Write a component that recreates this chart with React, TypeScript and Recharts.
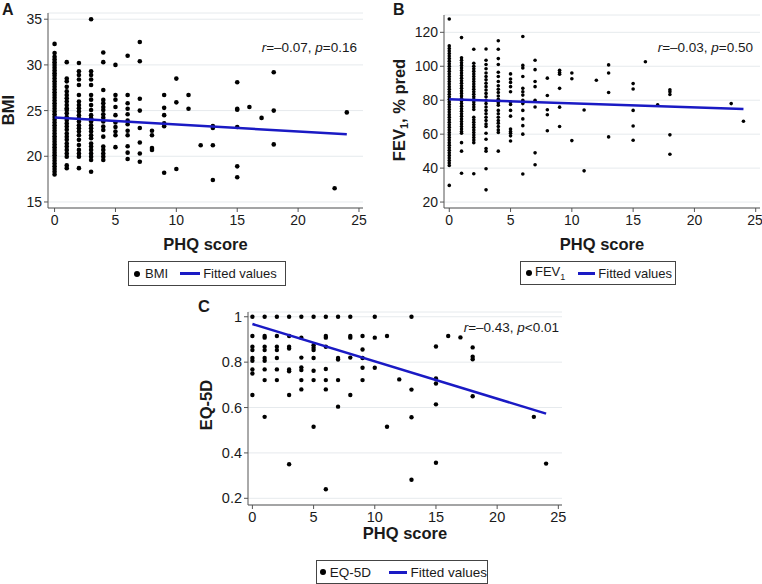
import React from 'react';
import { ScatterChart, Scatter, XAxis, YAxis, CartesianGrid } from 'recharts';

type Col = [number, number[]];

// PHQ score -> BMI values
const bmiColumns: Col[] = [
  [0, [32.3, 31.3, 30.9, 30.6, 30.3, 30.0, 29.7, 29.4, 29.1, 28.8, 28.5, 28.2, 27.9, 27.6, 27.3, 27.0, 26.7, 26.4, 26.1, 25.8, 25.5, 25.2, 24.9, 24.6, 24.3, 24.0, 23.7, 23.4, 23.1, 22.8, 22.5, 22.2, 21.9, 21.6, 21.3, 21.0, 20.7, 20.4, 20.1, 19.8, 19.5, 19.2, 18.9, 18.6, 18.3, 18.0]],
  [1, [30.3, 28.5, 28.2, 27.6, 27.1, 26.7, 26.35, 26.0, 25.6, 25.25, 25.07, 24.7, 24.3, 23.97, 23.6, 23.25, 22.9, 22.5, 22.15, 21.8, 21.4, 21.06, 20.7, 20.3, 19.96, 19.0, 18.7]],
  [2, [30.2, 29.3, 28.9, 28.4, 27.8, 26.7, 26.0, 25.6, 25.25, 24.9, 24.5, 24.16, 23.8, 23.4, 23.07, 22.7, 22.3, 21.8, 21.24, 20.7, 20.3, 19.96, 18.7]],
  [3, [35.0, 29.3, 28.9, 28.4, 27.8, 26.7, 26.2, 25.6, 25.07, 24.5, 24.16, 23.8, 23.4, 23.07, 22.7, 22.3, 21.97, 21.4, 21.06, 20.7, 20.3, 19.96, 19.6, 18.3]],
  [4, [31.35, 30.3, 27.26, 26.17, 25.8, 25.4, 25.07, 24.6, 24.23, 23.8, 23.25, 22.88, 22.15, 21.06, 20.7, 20.3, 19.96, 19.6]],
  [5, [30.0, 26.7, 26.2, 25.4, 24.5, 23.7, 23.2, 22.7, 22.3, 21.0]],
  [6, [31.0, 26.7, 25.8, 25.2, 24.6, 23.9, 23.5, 22.8, 22.3, 21.1, 20.4, 19.7]],
  [7, [32.5, 30.4, 26.3, 25.0, 23.1, 21.5, 20.3, 19.4]],
  [8, [22.8, 22.3, 20.9, 20.7]],
  [9, [26.7, 25.3, 24.5, 23.6, 23.3, 18.2]],
  [10, [28.5, 25.9, 18.6]],
  [11, [26.7, 25.2]],
  [12, [21.2]],
  [13, [23.3, 23.1, 21.2, 17.4]],
  [15, [28.1, 25.2, 25.1, 23.2, 18.9, 17.7]],
  [16, [25.4]],
  [17, [24.2]],
  [18, [29.2, 25.0, 21.3]],
  [23, [16.5]],
  [24, [24.8]],
];

// PHQ score -> FEV1 % predicted
const fevColumns: Col[] = [
  [0, [127.8, 112.0, 110.5, 109, 107.5, 106, 104.5, 103, 101.5, 100, 98.5, 97, 95.5, 94, 92.5, 91, 89.5, 88, 86.5, 85, 83.5, 82, 80.5, 79, 77.5, 76, 74.5, 73, 71.5, 70, 68.5, 67, 65.5, 64, 62.5, 61, 59.5, 58, 56.5, 55, 53.5, 52, 50.5, 49, 47.5, 46, 44.5, 43, 41.5, 29.8]],
  [1, [116.9, 105, 103.5, 102, 100.5, 99, 97.5, 96, 94.5, 93, 91.5, 90, 88.5, 87, 85.5, 84, 82.5, 81, 79.5, 78, 76.5, 75, 73.5, 72, 70.5, 69, 67.5, 66, 64.5, 63, 61.5, 60.5, 55, 50, 37]],
  [2, [110, 101.8, 100, 98.5, 97, 95.5, 94, 92.5, 91, 89.5, 88, 86.5, 85, 83.5, 82, 80.5, 79, 77.5, 76, 74.5, 70, 68.5, 67, 65.5, 64, 62.5, 61, 59.5, 58, 56.5, 55, 36.7]],
  [3, [110.2, 103.5, 101, 98.5, 96, 94, 92, 90, 88, 86, 84, 82, 80, 78, 76, 74, 72, 70, 68, 66, 64.5, 60.5, 57, 51.5, 50, 39.6, 27.2]],
  [4, [115, 110, 104.5, 101, 96.5, 94, 91, 88.5, 86.5, 84.5, 82.5, 80.5, 78.5, 77, 74, 72, 70, 68, 66.5, 64.5, 62.5, 61, 50]],
  [5, [95.5, 92.5, 90.5, 88, 85, 79, 77.5, 74, 70.6, 63, 61.5, 60.5, 59, 56]],
  [6, [117.5, 100.5, 99, 94, 87, 85, 83, 80, 78, 74, 69, 65, 60, 36.5]],
  [7, [103.5, 98, 91, 88, 80, 76, 49, 42]],
  [8, [93, 82.8, 74.4, 71.4, 62]],
  [9, [97.6, 96.3, 95.3, 87, 75.9, 64.5]],
  [10, [96, 92.6, 56.2]],
  [11, [74.2, 38.4]],
  [12, [91.8]],
  [13, [100.8, 96, 84.5, 58.4]],
  [15, [89.8, 86.6, 74, 64.8, 56.4]],
  [16, [102.7]],
  [17, [77.3]],
  [18, [86.2, 85, 83.4, 59.6, 48.2]],
  [23, [78]],
  [24, [67.6]],
];

// PHQ score -> EQ-5D
const eqColumns: Col[] = [
  [0, [1.0, 0.915, 0.868, 0.853, 0.818, 0.806, 0.768, 0.75, 0.655]],
  [1, [1.0, 0.915, 0.908, 0.868, 0.853, 0.818, 0.806, 0.768, 0.721, 0.559]],
  [2, [1.0, 0.915, 0.868, 0.853, 0.818, 0.768, 0.721]],
  [3, [1.0, 0.915, 0.868, 0.86, 0.768, 0.76, 0.655, 0.35]],
  [4, [1.0, 0.908, 0.82, 0.777, 0.765, 0.721, 0.68]],
  [5, [1.0, 0.875, 0.863, 0.853, 0.818, 0.762, 0.721, 0.515]],
  [6, [1.0, 0.915, 0.908, 0.868, 0.77, 0.721, 0.68, 0.24]],
  [7, [1.0, 0.818, 0.812, 0.721, 0.604]],
  [8, [1.0, 0.915, 0.908, 0.82, 0.655]],
  [9, [0.915, 0.856, 0.818, 0.775, 0.721]],
  [10, [1.0, 0.908, 0.775]],
  [11, [0.915, 0.515]],
  [12, [0.724]],
  [13, [1.0, 0.679, 0.557, 0.282]],
  [15, [0.869, 0.728, 0.706, 0.614, 0.357]],
  [16, [0.915]],
  [17, [0.909]],
  [18, [0.865, 0.824, 0.813, 0.65]],
  [23, [0.559]],
  [24, [0.353]],
];

const bmiFit = [{ x: 0, y: 24.25 }, { x: 24, y: 22.4 }];
const fevFit = [{ x: 0, y: 80.5 }, { x: 24, y: 74.8 }];
const eqFit = [{ x: 0, y: 0.968 }, { x: 24, y: 0.573 }];

const xTicks = [0, 5, 10, 15, 20, 25];
const bmiTicks = [15, 20, 25, 30, 35];
const fevTicks = [20, 40, 60, 80, 100, 120];
const eqTicks = [0.2, 0.4, 0.6, 0.8, 1];

const FONT = '"Liberation Sans", Arial, Helvetica, sans-serif';
const BLUE = '#1a1ac4';
const AXIS = '#555';
const GRID = '#e6eaed';
const TEXT = '#1a1a1a';

const toPoints = (cols: Col[]) => cols.flatMap(([x, ys]) => ys.map((y) => ({ x, y })));

const makeDot = (r: number) => (props: any) => (
  <circle cx={props.cx} cy={props.cy} r={r} fill="#000" />
);
const noDot = () => <g />;

interface PanelProps {
  left: number; top: number; width: number; height: number;
  margin: { top: number; right: number; bottom: number; left: number };
  yWidth: number; xHeight: number;
  xDomain: [number, number]; yDomain: [number, number];
  yTicks: number[];
  points: { x: number; y: number }[];
  fit: { x: number; y: number }[];
  dotR: number;
  yLabel: React.ReactNode; yLabelX: number; yLabelY: number;
  xLabelY: number;
  fmt?: (v: number) => string;
  tickSize?: number;
}

function Panel(p: PanelProps) {
  const plotCx = p.margin.left + p.yWidth + (p.width - p.margin.left - p.margin.right - p.yWidth) / 2;
  const tickFont = { fill: TEXT, fontSize: p.tickSize ?? 14, fontFamily: FONT };
  return (
    <div style={{ position: 'absolute', left: p.left, top: p.top }}>
      <ScatterChart width={p.width} height={p.height} margin={p.margin}>
        <CartesianGrid horizontal vertical={false} stroke={GRID} strokeWidth={1} />
        <XAxis
          type="number" dataKey="x" domain={p.xDomain} ticks={xTicks} height={p.xHeight}
          stroke={AXIS} tickLine={{ stroke: AXIS }} tickSize={4} tickMargin={3} tick={tickFont}
          allowDataOverflow
          label={() => (
            <text x={plotCx} y={p.xLabelY} textAnchor="middle" fontFamily={FONT} fontWeight="bold" fontSize={16.5} fill={TEXT}>
              PHQ score
            </text>
          )}
        />
        <YAxis
          type="number" dataKey="y" domain={p.yDomain} ticks={p.yTicks} width={p.yWidth}
          stroke={AXIS} tickLine={{ stroke: AXIS }} tickSize={4} tickMargin={2} tick={tickFont}
          tickFormatter={p.fmt} allowDataOverflow
          label={() => (
            <text
              x={p.yLabelX} y={p.yLabelY} textAnchor="middle" dominantBaseline="central"
              transform={`rotate(-90 ${p.yLabelX} ${p.yLabelY})`}
              fontFamily={FONT} fontWeight="bold" fontSize={16.5} fill={TEXT}
            >
              {p.yLabel}
            </text>
          )}
        />
        <Scatter data={p.points} shape={makeDot(p.dotR)} isAnimationActive={false} />
        <Scatter
          data={p.fit} shape={noDot} line={{ stroke: BLUE, strokeWidth: 2.5 }} lineType="joint"
          isAnimationActive={false}
        />
      </ScatterChart>
    </div>
  );
}

function LegendBox(props: {
  left: number; top: number; width: number; height: number; pad: number;
  label: React.ReactNode; gap1: number; gap2: number; lineW: number; fontSize: number;
}) {
  return (
    <div
      style={{
        position: 'absolute', left: props.left, top: props.top, width: props.width, height: props.height,
        border: '1px solid #444', boxSizing: 'border-box', display: 'flex', alignItems: 'center',
        paddingLeft: props.pad, fontFamily: FONT, fontSize: props.fontSize, color: TEXT, whiteSpace: 'nowrap',
      }}
    >
      <span style={{ display: 'inline-block', width: 6, height: 6, borderRadius: '50%', background: '#000', marginRight: props.gap1 }} />
      <span>{props.label}</span>
      <span style={{ display: 'inline-block', width: props.lineW, height: 3, background: BLUE, marginLeft: props.gap2, marginRight: 3 }} />
      <span>Fitted values</span>
    </div>
  );
}

export default function App() {
  return (
    <div style={{ position: 'absolute', left: 0, top: 0, width: 762, height: 584, background: '#fff', overflow: 'hidden', fontFamily: FONT }}>
      <Panel
        left={0} top={0} width={380} height={290}
        margin={{ top: 13, right: 17, bottom: 39, left: 0 }}
        yWidth={48} xHeight={43}
        xDomain={[-0.54, 25.33]} yDomain={[14.34, 35.68]} yTicks={bmiTicks}
        points={toPoints(bmiColumns)} fit={bmiFit} dotR={2.3}
        yLabel="BMI" yLabelX={8} yLabelY={110} xLabelY={250}
      />
      <Panel
        left={380} top={0} width={382} height={290}
        margin={{ top: 15, right: 2, bottom: 39, left: 0 }}
        yWidth={64} xHeight={43}
        xDomain={[-0.43, 25.35]} yDomain={[16.5, 130.2]} yTicks={fevTicks}
        points={toPoints(fevColumns)} fit={fevFit} dotR={1.8}
        yLabel={<>FEV<tspan fontSize={11} dy={5}>1</tspan><tspan dy={-5}>, % pred</tspan></>}
        yLabelX={18.5} yLabelY={110} xLabelY={250}
      />
      <Panel
        left={180} top={290} width={400} height={294}
        margin={{ top: 22, right: 18, bottom: 39, left: 0 }}
        yWidth={68} xHeight={40}
        xDomain={[-0.36, 25.3]} yDomain={[0.1705, 1.021]} yTicks={eqTicks}
        points={toPoints(eqColumns)} fit={eqFit} dotR={2.2}
        fmt={(v: number) => (v === 1 ? '1' : v.toFixed(1))}
        yLabel="EQ-5D" yLabelX={26} yLabelY={115} xLabelY={249} tickSize={14.5}
      />

      <svg width={762} height={584} style={{ position: 'absolute', left: 0, top: 0, pointerEvents: 'none' }}>
        <g fontFamily={FONT} fill={TEXT}>
          <text x={2} y={15} fontWeight="bold" fontSize={16}>A</text>
          <text x={393} y={15} fontWeight="bold" fontSize={16}>B</text>
          <text x={198} y={312} fontWeight="bold" fontSize={16.5}>C</text>
          <text x={357} y={52} textAnchor="end" fontSize={13.5}>
            <tspan fontStyle="italic">r</tspan>=–0.07, <tspan fontStyle="italic">p</tspan>=0.16
          </text>
          <text x={753} y={52} textAnchor="end" fontSize={13.5}>
            <tspan fontStyle="italic">r</tspan>=–0.03, <tspan fontStyle="italic">p</tspan>=0.50
          </text>
          <text x={559} y={332} textAnchor="end" fontSize={13.5}>
            <tspan fontStyle="italic">r</tspan>=–0.43, <tspan fontStyle="italic">p</tspan>&lt;0.01
          </text>
        </g>
      </svg>

      <LegendBox left={128} top={261} width={158} height={25} pad={5} label="BMI" gap1={5} gap2={12} lineW={20} fontSize={13} />
      <LegendBox
        left={520} top={261} width={156} height={24} pad={5}
        label={<>FEV<sub style={{ fontSize: 9 }}>1</sub></>}
        gap1={3} gap2={13} lineW={17} fontSize={13}
      />
      <LegendBox left={316} top={560} width={172} height={24} pad={3} label="EQ-5D" gap1={4} gap2={18} lineW={19} fontSize={13.5} />
    </div>
  );
}
